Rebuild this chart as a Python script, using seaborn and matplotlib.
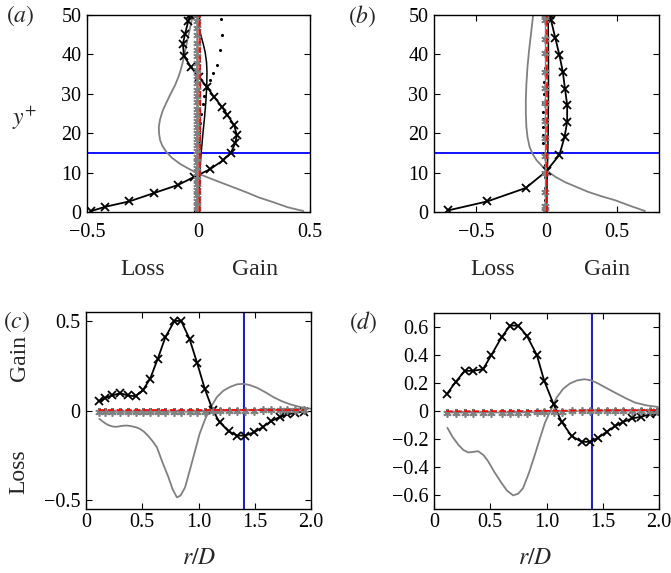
import matplotlib
matplotlib.use("Agg")
import matplotlib.pyplot as plt
import seaborn as sns
import pandas as pd

# ---------------- panel (a): wall-normal budget profiles ----------------
ya_main = [0.25, 1.3, 2.7, 4.8, 6.9, 8.9, 10.8, 13.1, 15.0, 17.5, 19.5, 22.0,
           24.6, 26.7, 29.2, 31.6, 34.3, 36.9, 39.6, 42.6, 45.3, 48.6, 49.9]
xa_main = [-0.48, -0.42, -0.31, -0.20, -0.09, -0.02, 0.05, 0.11, 0.145, 0.165,
           0.172, 0.16, 0.13, 0.105, 0.07, 0.04, 0.0, -0.035, -0.065, -0.07,
           -0.06, -0.045, -0.038]

ya_gray = [0.25, 1.2, 2.5, 3.7, 5.0, 6.3, 7.6, 8.7, 9.7, 11.0, 12.3, 13.8, 15.3,
           16.8, 18.2, 20.0, 21.6, 23.6, 25.8, 28.0, 30.0, 32.2, 34.3, 36.0,
           37.7, 40.3, 43.6, 46.2, 50.0]
xa_gray = [0.47, 0.40, 0.335, 0.27, 0.215, 0.155, 0.095, 0.045, 0.0, -0.045,
           -0.085, -0.12, -0.145, -0.162, -0.172, -0.177, -0.178, -0.172, -0.16,
           -0.142, -0.125, -0.105, -0.09, -0.08, -0.072, -0.062, -0.05, -0.04,
           -0.025]

ya_thin = [0.3, 5.0, 9.7, 15.0, 20.0, 24.0, 28.0, 32.0, 35.5, 38.0, 40.5,
           42.5, 45.0, 47.5, 50.0]
xa_thin = [0.0, 0.002, 0.005, 0.012, 0.02, 0.027, 0.033, 0.037, 0.038, 0.036,
           0.03, 0.022, 0.01, 0.0, -0.008]

ya_dot = [0.3, 2.5, 5.0, 7.5, 10.0, 12.5, 15.0, 17.5, 20.0, 22.5, 25.0, 27.5,
          29.5, 31.5, 33.5, 35.2, 37.3, 41.0, 44.9, 48.9]
xa_dot = [-0.014, -0.013, -0.012, -0.008, -0.004, -0.001, 0.0, 0.002, 0.004,
          0.008, 0.012, 0.018, 0.025, 0.036, 0.05, 0.066, 0.084, 0.098, 0.106,
          0.1]

ya_star = [0.3, 1.5, 2.8, 4.2, 5.6, 7.0, 8.4, 9.8, 11.2, 12.6, 14.0, 15.5,
           17.0, 18.5, 20.0, 21.5, 23.0, 24.6, 26.2, 27.8, 29.4, 31.0, 32.7,
           34.4, 36.1, 37.8, 39.5, 41.2, 43.0, 44.8, 46.6, 48.4, 50.0]
xa_star = [-0.008, -0.008, -0.008, -0.007, -0.007, -0.007, -0.006, -0.006,
           -0.006, -0.006, -0.006, -0.006, -0.006, -0.006, -0.006, -0.006,
           -0.006, -0.006, -0.006, -0.006, -0.006, -0.006, -0.005, -0.005,
           -0.005, -0.005, -0.005, -0.005, -0.005, -0.005, -0.005, -0.005,
           -0.005]

ya_red = [0.0, 10.0, 20.0, 30.0, 40.0, 50.0]
xa_red = [0.006, 0.007, 0.008, 0.008, 0.007, 0.006]

# ---------------- panel (b) ----------------
yb_main = [0.4, 2.7, 6.1, 10.4, 14.5, 19.0, 22.9, 27.2, 31.1, 35.6, 39.8, 44.1,
           48.7, 50.0]
xb_main = [-0.70, -0.42, -0.147, 0.0, 0.092, 0.128, 0.147, 0.147, 0.132,
           0.116, 0.092, 0.063, 0.032, 0.025]

yb_gray = [0.25, 1.5, 3.0, 4.0, 5.1, 6.4, 7.6, 8.9, 10.2, 11.6, 13.1, 14.8,
           16.5, 19.0, 21.6, 25.0, 28.4, 32.5, 36.9, 41.0, 45.3, 50.0]
xb_gray = [0.70, 0.60, 0.487, 0.39, 0.297, 0.21, 0.13, 0.065, 0.012, -0.03,
           -0.07, -0.10, -0.12, -0.135, -0.143, -0.147, -0.147, -0.143,
           -0.135, -0.124, -0.11, -0.095]

yb_thin = [0.3, 5.0, 10.0, 20.0, 30.0, 40.0, 50.0]
xb_thin = [0.0, 0.003, 0.006, 0.012, 0.014, 0.014, 0.012]

yb_dot = [0.5, 3.0, 6.0, 9.0, 12.0, 15.0, 17.5, 19.5, 21.5, 23.5, 25.5, 27.5,
          30.0, 33.0, 36.5, 40.0, 44.0, 48.5]
xb_dot = [-0.01, -0.012, -0.012, -0.01, -0.012, -0.018, -0.022, -0.024, -0.024,
          -0.024, -0.024, -0.022, -0.02, -0.016, -0.012, -0.01, -0.008, -0.006]

yb_star = [0.3, 1.4, 5.2, 9.9, 14.2, 18.8, 23.0, 27.6, 31.4, 35.6, 40.3, 44.0,
           48.7, 50.0]
xb_star = [-0.01, -0.01, -0.01, -0.01, -0.01, -0.01, -0.01, -0.01, -0.01,
           -0.01, -0.01, -0.01, -0.01, -0.01]

yb_red = [0.0, 10.0, 20.0, 30.0, 40.0, 50.0]
xb_red = [0.003, 0.003, 0.004, 0.004, 0.003, 0.003]

# ---------------- panel (c): radial budget ----------------
r_c = [0.119, 0.172, 0.231, 0.306, 0.371, 0.44, 0.504, 0.57, 0.638, 0.706,
       0.786, 0.846, 0.92, 0.988, 1.056, 1.125, 1.187, 1.267, 1.342, 1.416,
       1.496, 1.57, 1.645, 1.72, 1.79, 1.86, 1.935]
c_main = [0.052, 0.071, 0.084, 0.097, 0.084, 0.08, 0.112, 0.177, 0.289, 0.41,
          0.5, 0.5, 0.40, 0.265, 0.121, 0.004, -0.065, -0.116, -0.14, -0.14,
          -0.121, -0.093, -0.06, -0.037, -0.022, -0.013, -0.006]
c_dot = [0.008, 0.008, 0.008, 0.008, 0.008, 0.008, 0.008, 0.008, 0.008, 0.008,
         0.008, 0.008, 0.008, 0.008, 0.008, 0.008, 0.008, 0.008, 0.008, 0.008,
         0.007, 0.007, 0.007, 0.007, 0.006, 0.006, 0.006]
c_star = [-0.009, -0.009, -0.009, -0.009, -0.009, -0.009, -0.009, -0.009,
          -0.009, -0.009, -0.008, -0.008, -0.008, -0.007, -0.006, -0.005,
          -0.004, -0.003, -0.002, -0.001, 0.0, 0.001, 0.002, 0.003, 0.003,
          0.004, 0.004]
c_red = [0.002, 0.002, 0.002, 0.002, 0.002, 0.002, 0.002, 0.002, 0.002, 0.002,
         0.002, 0.002, 0.002, 0.002, 0.002, 0.002, 0.002, 0.002, 0.002, 0.002,
         0.002, 0.002, 0.002, 0.002, 0.002, 0.002, 0.002]

rc_gray = [0.119, 0.15, 0.18, 0.21, 0.243, 0.27, 0.3, 0.33, 0.362, 0.39, 0.42,
           0.45, 0.48, 0.515, 0.55, 0.59, 0.63, 0.68, 0.733, 0.77, 0.808, 0.84,
           0.88, 0.92, 0.97, 1.01, 1.06, 1.11, 1.164, 1.22, 1.282, 1.34, 1.395,
           1.45, 1.52, 1.6, 1.668, 1.74, 1.817, 1.9, 1.995]
c_gray = [-0.047, -0.062, -0.075, -0.084, -0.09, -0.091, -0.088, -0.085,
          -0.084, -0.086, -0.09, -0.095, -0.103, -0.118, -0.14, -0.17, -0.205,
          -0.29, -0.373, -0.44, -0.485, -0.475, -0.43, -0.34, -0.224, -0.13,
          -0.047, 0.02, 0.075, 0.11, 0.132, 0.146, 0.149, 0.143, 0.127, 0.1,
          0.074, 0.052, 0.034, 0.02, 0.01]

# ---------------- panel (d) ----------------
r_d = [0.113, 0.193, 0.273, 0.35, 0.436, 0.51, 0.6, 0.677, 0.751, 0.825,
       0.914, 0.98, 1.063, 1.134, 1.223, 1.312, 1.386, 1.46, 1.535, 1.609,
       1.683, 1.763, 1.84, 1.92, 1.98]
d_main = [0.12, 0.208, 0.287, 0.287, 0.299, 0.40, 0.526, 0.61, 0.61, 0.538,
          0.40, 0.215, 0.048, -0.077, -0.179, -0.22, -0.22, -0.191, -0.148,
          -0.108, -0.077, -0.053, -0.041, -0.024, -0.017]
d_dot = [0.009, 0.009, 0.009, 0.009, 0.009, 0.009, 0.009, 0.009, 0.009, 0.009,
         0.009, 0.009, 0.009, 0.01, 0.01, 0.01, 0.011, 0.011, 0.011, 0.011,
         0.012, 0.012, 0.012, 0.012, 0.012]
d_star = [-0.012, -0.012, -0.012, -0.012, -0.012, -0.012, -0.012, -0.012,
          -0.012, -0.011, -0.01, -0.008, -0.006, -0.004, -0.002, 0.0, 0.0,
          0.0, 0.0, 0.0, 0.0, 0.001, 0.001, 0.001, 0.001]
d_red = [-0.002, -0.002, -0.002, -0.002, -0.001, -0.001, 0.0, 0.0, 0.0, 0.0,
         0.001, 0.001, 0.002, 0.002, 0.003, 0.003, 0.004, 0.004, 0.004, 0.005,
         0.005, 0.005, 0.006, 0.006, 0.006]

rd_gray = [0.119, 0.165, 0.214, 0.26, 0.303, 0.35, 0.392, 0.44, 0.481, 0.54,
           0.6, 0.65, 0.704, 0.75, 0.792, 0.845, 0.897, 0.94, 0.986, 1.04,
           1.09, 1.15, 1.208, 1.27, 1.336, 1.40, 1.46, 1.53, 1.609, 1.70, 1.787,
           1.89, 1.99]
d_gray = [-0.12, -0.185, -0.239, -0.278, -0.296, -0.292, -0.287, -0.315,
          -0.359, -0.44, -0.514, -0.57, -0.603, -0.59, -0.55, -0.44, -0.311,
          -0.2, -0.084, 0.01, 0.096, 0.16, 0.196, 0.218, 0.227, 0.218, 0.196,
          0.165, 0.131, 0.093, 0.06, 0.04, 0.029]

# y+ location of the horizontal marker line and r/D of the vertical one
yplus_ref = 15.0
rD_ref = 1.4

# ---------------- styling ----------------
sns.set_theme(style="white")
plt.rcParams["font.family"] = ["Liberation Serif", "DejaVu Serif"]
plt.rcParams["mathtext.fontset"] = "stix"
plt.rcParams["axes.unicode_minus"] = True

GRAY = "#808080"
BLUE = "#0000ff"
RED = "#ff0000"
ASTER = (6, 2, 0)
TICK_FS = 14.5
LAB_FS = 17

W, H = 671, 573
fig = plt.figure(figsize=(W / 100, H / 100), dpi=100)
fig.patch.set_facecolor("white")


def px_axes(left, top, right, bottom):
    return fig.add_axes([left / W, 1 - bottom / H, (right - left) / W,
                         (bottom - top) / H])


def series(ax, x, y, **kw):
    df = pd.DataFrame({"x": x, "y": y})
    sns.lineplot(data=df, x="x", y="y", sort=False, estimator=None, ax=ax,
                 legend=False, **kw)


def style_axes(ax, xpad):
    ax.set_facecolor("white")
    for s in ax.spines.values():
        s.set_visible(True)
        s.set_color("black")
        s.set_linewidth(1.0)
    ax.tick_params(direction="in", top=True, right=True, length=4, width=0.8,
                   labelsize=TICK_FS, colors="black", bottom=True, left=True)
    ax.tick_params(axis="x", pad=xpad)
    ax.tick_params(axis="y", pad=4)
    ax.set_xlabel("")
    ax.set_ylabel("")
    ax.grid(False)


def draw_markers(ax, x, y, marker, color, lw, ms, mew):
    series(ax, x, y, color=color, lw=lw, marker=marker, markersize=ms,
           markeredgewidth=mew, markeredgecolor=color, markerfacecolor=color)


def profile_panel(ax, xm, ym, xg, yg, xt, yt, xd, yd, xs, ys, xr, yr, xlim,
                  xticks, xticklabels):
    ax.axhline(yplus_ref, color=BLUE, lw=1.3, zorder=1)
    series(ax, xg, yg, color=GRAY, lw=1.3)
    series(ax, xt, yt, color="black", lw=1.1)
    draw_markers(ax, xd, yd, ".", "black", 0, 4.5, 0)
    draw_markers(ax, xm, ym, "x", "black", 1.3, 5.5, 1.3)
    draw_markers(ax, xs, ys, ASTER, GRAY, 1.0, 6, 1.2)
    series(ax, xr, yr, color=RED, lw=1.2, linestyle="--")
    ax.set_xlim(*xlim)
    ax.set_ylim(0, 50)
    ax.set_xticks(xticks)
    ax.set_xticklabels(xticklabels)
    ax.set_yticks([0, 10, 20, 30, 40, 50])
    ax.set_yticklabels(["0", "10", "20", "30", "40", "50"])
    style_axes(ax, xpad=8)


def radial_panel(ax, r, m, dt, st, rd, rg, g, ylim, yticks, yticklabels):
    ax.axvline(rD_ref, color=BLUE, lw=1.3, zorder=1)
    series(ax, rg, g, color=GRAY, lw=1.3)
    draw_markers(ax, r, dt, ".", "black", 0, 4.5, 0)
    draw_markers(ax, r, m, "x", "black", 1.3, 5.5, 1.3)
    draw_markers(ax, r, st, ASTER, GRAY, 1.0, 6, 1.2)
    series(ax, r, rd, color=RED, lw=1.2, linestyle="--")
    ax.set_xlim(0, 2.0)
    ax.set_ylim(*ylim)
    ax.set_xticks([0, 0.5, 1.0, 1.5, 2.0])
    ax.set_xticklabels(["0", "0.5", "1.0", "1.5", "2.0"])
    ax.set_yticks(yticks)
    ax.set_yticklabels(yticklabels)
    style_axes(ax, xpad=3)


ax_a = px_axes(87, 15, 310, 212)
profile_panel(ax_a, xa_main, ya_main, xa_gray, ya_gray, xa_thin, ya_thin,
              xa_dot, ya_dot, xa_star, ya_star, xa_red, ya_red,
              (-0.5, 0.5), [-0.5, 0, 0.5], ["\u22120.5", "0", "0.5"])

ax_b = px_axes(434, 15, 659, 212)
profile_panel(ax_b, xb_main, yb_main, xb_gray, yb_gray, xb_thin, yb_thin,
              xb_dot, yb_dot, xb_star, yb_star, xb_red, yb_red,
              (-0.8, 0.8), [-0.5, 0, 0.5], ["\u22120.5", "0", "0.5"])

ax_c = px_axes(86, 312, 311, 509)
radial_panel(ax_c, r_c, c_main, c_dot, c_star, c_red, rc_gray, c_gray,
             (-0.55, 0.55), [-0.5, 0, 0.5], ["\u22120.5", "0", "0.5"])

ax_d = px_axes(434, 313, 659, 509)
radial_panel(ax_d, r_d, d_main, d_dot, d_star, d_red, rd_gray, d_gray,
             (-0.7, 0.7), [-0.6, -0.4, -0.2, 0, 0.2, 0.4, 0.6],
             ["\u22120.6", "\u22120.4", "\u22120.2", "0", "0.2", "0.4", "0.6"])


def ftext(x, y, s, **kw):
    fig.text(x / W, 1 - y / H, s, **kw)


# panel tags
ftext(20, 16, r"$(a)$", fontsize=LAB_FS, ha="center", va="center")
ftext(362, 16, r"$(b)$", fontsize=LAB_FS, ha="center", va="center")
ftext(17, 322, r"$(c)$", fontsize=LAB_FS, ha="center", va="center")
ftext(363, 322, r"$(d)$", fontsize=LAB_FS, ha="center", va="center")

# axis annotations
ftext(25, 118, r"$y^{+}$", fontsize=LAB_FS, ha="center", va="center")
for xl, xg in [(143, 255), (493, 607)]:
    ftext(xl, 275, "Loss", fontsize=LAB_FS, ha="center", va="baseline")
    ftext(xg, 275, "Gain", fontsize=LAB_FS, ha="center", va="baseline")
ftext(19, 358, "Gain", fontsize=LAB_FS, ha="center", va="center", rotation=90)
ftext(19, 472, "Loss", fontsize=LAB_FS, ha="center", va="center", rotation=90)
ftext(199, 558, r"$r/D$", fontsize=LAB_FS, ha="center", va="center")
ftext(535, 558, r"$r/D$", fontsize=LAB_FS, ha="center", va="center")

fig.savefig("out.png", dpi=100, facecolor="white")
